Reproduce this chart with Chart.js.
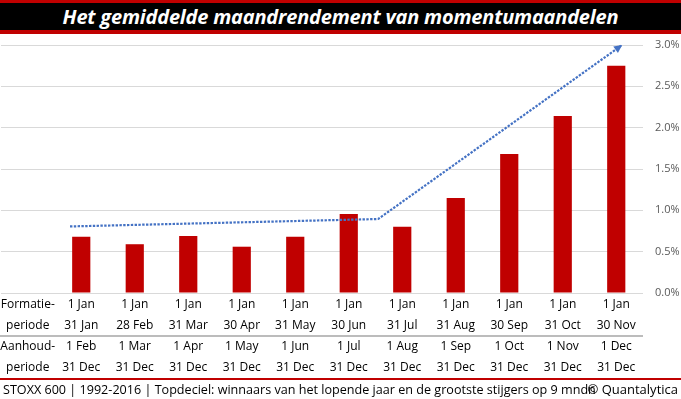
<!DOCTYPE html>
<html>
<head>
<meta charset="utf-8">
<script src="https://cdn.jsdelivr.net/npm/chart.js@4.4.1/dist/chart.umd.min.js"></script>
<style>
    html, body { margin: 0; padding: 0; background: #fff; }
    #wrap { position: relative; width: 681px; height: 399px; overflow: hidden; font-family: "Open Sans", sans-serif; }
    #titleBar {
        position: absolute; left: 0; top: 0; width: 681px; height: 27px;
        background: #000; border-top: 3px solid #c00000; border-bottom: 4px solid #c00000;
        color: #fff; font-weight: bold; font-style: italic; font-size: 20px;
        line-height: 27px; text-align: center; letter-spacing: -0.2px;
    }
    #footer {
        position: absolute; left: 3px; right: 3px; top: 381px; height: 17px;
        font-size: 12.6px; line-height: 17px; color: #000; white-space: nowrap;
    }
    #footer .right { position: absolute; right: 0; top: 0; font-size: 13px; }
    canvas { position: absolute; left: 0; top: 0; }
</style>
</head>
<body>
<div id="wrap">
    <canvas id="chart" width="681" height="399"></canvas>
    <div id="titleBar">Het gemiddelde maandrendement van momentumaandelen</div>
    <div id="footer">STOXX 600 | 1992-2016 | Topdeciel: winnaars van het lopende jaar en de grootste stijgers op 9 mndn<span class="right">© Quantalytica</span></div>
</div>
<script>
// --- Data ---
const rowHeaders = ['Formatie-', 'periode', 'Aanhoud-', 'periode'];
const formationStart = ['1 Jan', '1 Jan', '1 Jan', '1 Jan', '1 Jan', '1 Jan', '1 Jan', '1 Jan', '1 Jan', '1 Jan', '1 Jan'];
const formationEnd = ['31 Jan', '28 Feb', '31 Mar', '30 Apr', '31 May', '30 Jun', '31 Jul', '31 Aug', '30 Sep', '31 Oct', '30 Nov'];
const holdingStart = ['1 Feb', '1 Mar', '1 Apr', '1 May', '1 Jun', '1 Jul', '1 Aug', '1 Sep', '1 Oct', '1 Nov', '1 Dec'];
const holdingEnd = ['31 Dec', '31 Dec', '31 Dec', '31 Dec', '31 Dec', '31 Dec', '31 Dec', '31 Dec', '31 Dec', '31 Dec', '31 Dec'];
const monthlyReturn = [0.68, 0.59, 0.69, 0.56, 0.68, 0.955, 0.80, 1.15, 1.68, 2.14, 2.75];
// trend arrow, x in category index units (0 = header column)
const trendX = [0.79, 6.55, 11.11];
const trendY = [0.805, 0.895, 3.0];
const yTicks = [0, 0.5, 1, 1.5, 2, 2.5, 3];

const labels = [rowHeaders].concat(formationStart.map((s, i) => [s, formationEnd[i], holdingStart[i], holdingEnd[i]]));
const barData = [null].concat(monthlyReturn);

// dotted trend arrow, positioned through the chart's own scales
const trendArrow = {
    id: 'trendArrow',
    afterDatasetsDraw(chart) {
        const ctx = chart.ctx;
        const xs = chart.scales.x, ys = chart.scales.y;
        const pts = trendX.map((v, i) => [xs.getPixelForValue(v), ys.getPixelForValue(trendY[i])]);
        ctx.save();
        ctx.strokeStyle = '#4472c4';
        ctx.fillStyle = '#4472c4';
        ctx.lineWidth = 2.2;
        ctx.setLineDash([2.4, 1.4]);
        ctx.beginPath();
        pts.forEach((p, i) => i === 0 ? ctx.moveTo(p[0], p[1]) : ctx.lineTo(p[0], p[1]));
        ctx.stroke();
        // arrow head
        const a = pts[pts.length - 2], b = pts[pts.length - 1];
        const ang = Math.atan2(b[1] - a[1], b[0] - a[0]);
        ctx.setLineDash([]);
        ctx.translate(b[0], b[1]);
        ctx.rotate(ang);
        ctx.beginPath();
        ctx.moveTo(0, 0);
        ctx.lineTo(-8, -4);
        ctx.lineTo(-8, 4);
        ctx.closePath();
        ctx.fill();
        ctx.restore();
    }
};

// table lines under the chart
const tableLines = {
    id: 'tableLines',
    afterDraw(chart) {
        const ctx = chart.ctx;
        const area = chart.chartArea;
        ctx.save();
        ctx.strokeStyle = '#a6a6a6';
        ctx.lineWidth = 1.5;
        ctx.beginPath();
        ctx.moveTo(0, area.bottom + 43);
        ctx.lineTo(area.right, area.bottom + 43);
        ctx.stroke();
        ctx.fillStyle = '#c00000';
        ctx.fillRect(0, 378, chart.width, 2);
        ctx.restore();
    }
};

const ctx = document.getElementById('chart').getContext('2d');
new Chart(ctx, {
    type: 'bar',
    data: {
        labels: labels,
        datasets: [
            {
                data: barData,
                backgroundColor: '#c00000',
                barPercentage: 0.34,
                categoryPercentage: 1
            }
        ]
    },
    options: {
        responsive: false,
        animation: false,
        layout: { padding: { top: 45, left: 1, right: 0, bottom: 20 } },
        plugins: { legend: { display: false }, tooltip: { enabled: false } },
        scales: {
            x: {
                grid: { display: false, drawTicks: false },
                border: { display: false },
                afterFit(scale) { scale.paddingLeft = 0; scale.paddingRight = 0; },
                ticks: {
                    color: '#000',
                    padding: 1,
                    maxRotation: 0,
                    autoSkip: false,
                    font: { family: 'Open Sans', size: 12, lineHeight: '21px' }
                }
            },
            y: {
                position: 'right',
                min: 0,
                max: 3,
                afterBuildTicks(scale) { scale.ticks = yTicks.map(v => ({ value: v })); },
                afterFit(scale) { scale.width = 38; },
                grid: { color: '#d9d9d9', lineWidth: 1, drawTicks: false },
                border: { display: false },
                ticks: {
                    color: '#595959',
                    padding: 12,
                    font: { family: 'Open Sans', size: 11 },
                    callback: v => v.toFixed(1) + '%'
                }
            }
        }
    },
    plugins: [trendArrow, tableLines]
});
</script>
</body>
</html>
